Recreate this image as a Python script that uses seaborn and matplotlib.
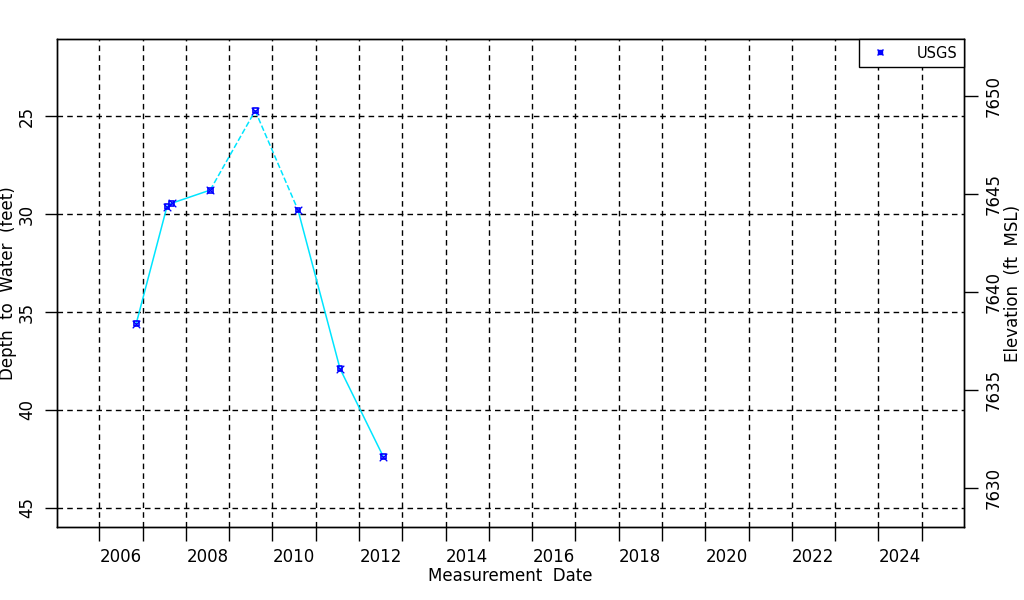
import matplotlib
matplotlib.use("Agg")
import matplotlib.pyplot as plt
import seaborn as sns
from matplotlib.ticker import MultipleLocator, FixedLocator, NullFormatter, FixedFormatter
from matplotlib.lines import Line2D

# measurement dates as decimal years, depth to water in feet
dates = [2006.85, 2007.56, 2007.67, 2008.56, 2009.60, 2010.59, 2011.56, 2012.56]
depth = [35.60, 29.63, 29.45, 28.78, 24.73, 29.80, 37.89, 42.38]
# segment i joins point i and i+1; True = dashed (gap in record)
dashed = [False, False, False, True, True, False, False]

land_surface = 7674.0
year_labels = list(range(2006, 2025, 2))
depth_ticks = [25, 30, 35, 40, 45]
elev_ticks = [7630, 7635, 7640, 7645, 7650]

sns.set_style("ticks")
plt.rcParams["font.family"] = ["DejaVu Sans"]
plt.rcParams["text.color"] = "black"
plt.rcParams["axes.labelcolor"] = "black"
plt.rcParams["xtick.color"] = "black"
plt.rcParams["ytick.color"] = "black"

fig = plt.figure(figsize=(10.24, 6.0), dpi=100)
ax = fig.add_axes([57 / 1024, 1 - 527 / 600, (964 - 57) / 1024, (527 - 39) / 600])

for i in range(len(dates) - 1):
    sns.lineplot(x=dates[i:i + 2], y=depth[i:i + 2], ax=ax, color="#00e5ff",
                 linewidth=1.1, linestyle="--" if dashed[i] else "-",
                 legend=False, zorder=3)

sns.scatterplot(x=dates, y=depth, ax=ax, marker="s", s=12, facecolor="none",
                edgecolor="#0000ff", linewidth=1.2, zorder=4, legend=False)
sns.scatterplot(x=dates, y=depth, ax=ax, marker="x", s=30, color="#0000ff",
                linewidth=0.9, zorder=4, legend=False)

ax.set_xlim(2005.02, 2025.98)
ax.set_ylim(45.97, 21.07)

ax.xaxis.set_major_locator(MultipleLocator(1))
ax.xaxis.set_major_formatter(NullFormatter())
ax.xaxis.set_minor_locator(FixedLocator([y + 0.5 for y in year_labels]))
ax.xaxis.set_minor_formatter(FixedFormatter([str(y) for y in year_labels]))
ax.tick_params(axis="x", which="major", length=10, width=1, direction="out")
ax.tick_params(axis="x", which="minor", length=0, pad=15, labelsize=12)

ax.set_yticks(depth_ticks)
ax.set_yticklabels([str(t) for t in depth_ticks], rotation=90, va="center")
ax.tick_params(axis="y", length=9, width=1, direction="out", labelsize=12, pad=6)

ax.grid(True, which="major", axis="both", linestyle=(0, (4, 3)), color="black", linewidth=1)
for s in ax.spines.values():
    s.set_color("black")
    s.set_linewidth(1)

ax.set_xlabel("Measurement  Date", fontsize=12, labelpad=1)
ax.set_ylabel("Depth  to  Water  (feet)", fontsize=12, labelpad=1)

ax2 = ax.twinx()
lo, hi = ax.get_ylim()
ax2.set_ylim(land_surface - lo, land_surface - hi)
ax2.set_yticks(elev_ticks)
ax2.set_yticklabels([str(t) for t in elev_ticks], rotation=90, va="center")
ax2.tick_params(axis="y", length=10, width=1, direction="out", labelsize=12, pad=5)
ax2.set_ylabel("Elevation  (ft  MSL)", fontsize=12, labelpad=1)
for s in ax2.spines.values():
    s.set_color("black")
    s.set_linewidth(1)

handle = (Line2D([], [], linestyle="none", marker="s", markersize=3,
                 markerfacecolor="none", markeredgecolor="#0000ff"),
          Line2D([], [], linestyle="none", marker="x", markersize=5,
                 color="#0000ff"))
leg = ax2.legend([handle], ["USGS"], loc="upper right", borderaxespad=0,
                 fancybox=False, edgecolor="black", framealpha=1, fontsize=10.5,
                 borderpad=0.45, handletextpad=1.5, handlelength=2.0)
leg.get_frame().set_linewidth(1)

fig.savefig("out.png", dpi=100)
